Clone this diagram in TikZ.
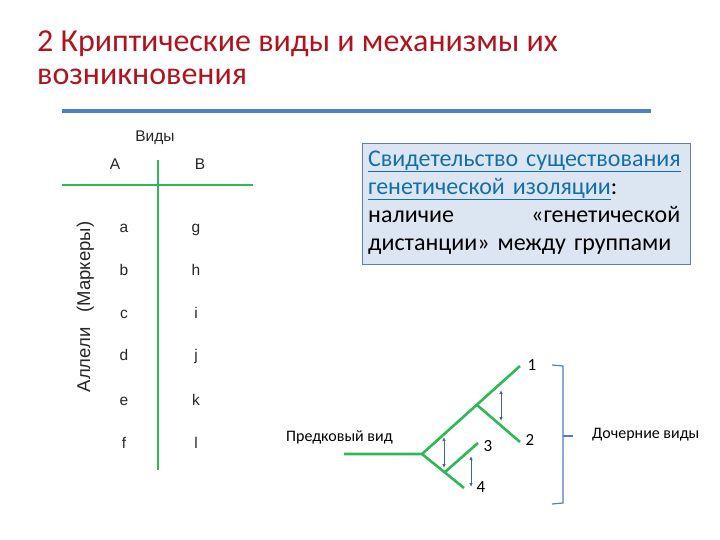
\documentclass[tikz,border=0pt]{standalone}
\usepackage{fontspec}
\setmainfont{Carlito}
\newfontfamily\arialf{Liberation Sans}
\usetikzlibrary{arrows.meta}
\definecolor{titlered}{RGB}{175,20,30}
\definecolor{rulblue}{RGB}{79,129,189}
\definecolor{gr}{RGB}{45,185,85}
\definecolor{boxfill}{RGB}{220,230,242}
\definecolor{linkblue}{RGB}{20,110,170}
\definecolor{arr}{RGB}{65,105,135}
\tikzset{
  lbl/.style={font=\fontsize{16}{18}\selectfont, inner sep=0pt},
  tl/.style={font=\arialf\fontsize{15.5}{18}\selectfont, inner sep=0pt, text=black!85, text height=11pt, text depth=3pt},
  br/.style={draw=gr, line width=2.6pt},
  tbl/.style={draw=gr, line width=2pt},
  dist/.style={draw=arr, line width=1pt, {Latex[length=4pt,width=3.5pt]}-{Latex[length=4pt,width=3.5pt]}},
}
\begin{document}
\begin{tikzpicture}[x=1pt,y=-1pt]
\useasboundingbox (0,0) rectangle (720,540);
\fill[white] (0,0) rectangle (720,540);
% title
\node[anchor=west, inner sep=0pt, text=titlered, font=\fontsize{32}{35}\selectfont] (t1) at (37,44) {2 Криптические виды и механизмы их};
\node[anchor=west, inner sep=0pt, text=titlered, font=\fontsize{32}{35}\selectfont] (t2) at (37,77) {возникновения};
\draw[rulblue, line width=4pt] (62,111) -- (651,111);
% table
\node[tl] (vidy) at (155,138) {Виды};
\node[tl] (A) at (115,166) {А};
\node[tl] (B) at (200,166) {В};
\draw[tbl] (62,185) -- (253,185);
\draw[tbl] (158,160) -- (158,470);
\foreach \l/\r/\y in {a/g/229, b/h/271, c/i/314, d/j/356, e/k/401, f/l/444}{
  \node[tl] (L\l) at (124,\y) {\l};
  \node[tl] (R\r) at (196,\y) {\r};
}
\node[tl, rotate=90, font=\arialf\fontsize{18.5}{20}\selectfont] (allel) at (86,307) {Аллели\hspace{15pt}(Маркеры)};
% box
\node[draw=rulblue!80!gray, fill=boxfill, line width=0.8pt, minimum width=328pt, minimum height=121pt, inner sep=0pt] (box) at (526,203.5) {};
\node[anchor=north west, inner sep=0pt, text width=312pt, align=left, font=\fontsize{24}{28}\selectfont] (boxtext) at (368,150.5) {%
{\color{linkblue}\underline{Свидетельство существования}}\\
{\color{linkblue}\underline{генетической изоляции}}:\\
\makebox[312pt][s]{наличие\hfill«генетической}\\
дистанции» между группами};
% tree
\coordinate (s0) at (344,454);
\coordinate (A0) at (422,454);
\coordinate (e1) at (520,366);
\coordinate (Bf) at (477,405);
\coordinate (e2) at (520,442);
\coordinate (e4) at (464,488);
\coordinate (Cf) at (445,472);
\coordinate (e3) at (478,443);
\draw[br] (s0) -- (A0) -- (e1);
\draw[br] (A0) -- (e4);
\draw[br] (Bf) -- (e2);
\draw[br] (Cf) -- (e3);
\coordinate (d1a) at (501,390); \coordinate (d1b) at (501,421);
\coordinate (d2a) at (444,437); \coordinate (d2b) at (444,468);
\coordinate (d3a) at (471,456); \coordinate (d3b) at (471,487);
\draw[dist] (d1a) -- (d1b);
\draw[dist] (d2a) -- (d2b);
\draw[dist] (d3a) -- (d3b);
\node[lbl, font=\fontsize{17}{18}\selectfont] (n1) at (532,365) {1};
\node[lbl, font=\fontsize{17}{18}\selectfont] (n2) at (530,440) {2};
\node[lbl, font=\fontsize{17}{18}\selectfont] (n3) at (488,446) {3};
\node[lbl, font=\fontsize{17}{18}\selectfont] (n4) at (481,487) {4};
\node[lbl, anchor=west] (anc) at (286,437) {Предковый вид};
\node[lbl, anchor=west] (daug) at (592,435) {Дочерние виды};
\draw[rulblue, line width=1.2pt] (552,365) -- (563,366) -- (563,503) -- (552,504);
\draw[rulblue, line width=1.2pt] (563,436) -- (573,436);
\end{tikzpicture}
\end{document}
